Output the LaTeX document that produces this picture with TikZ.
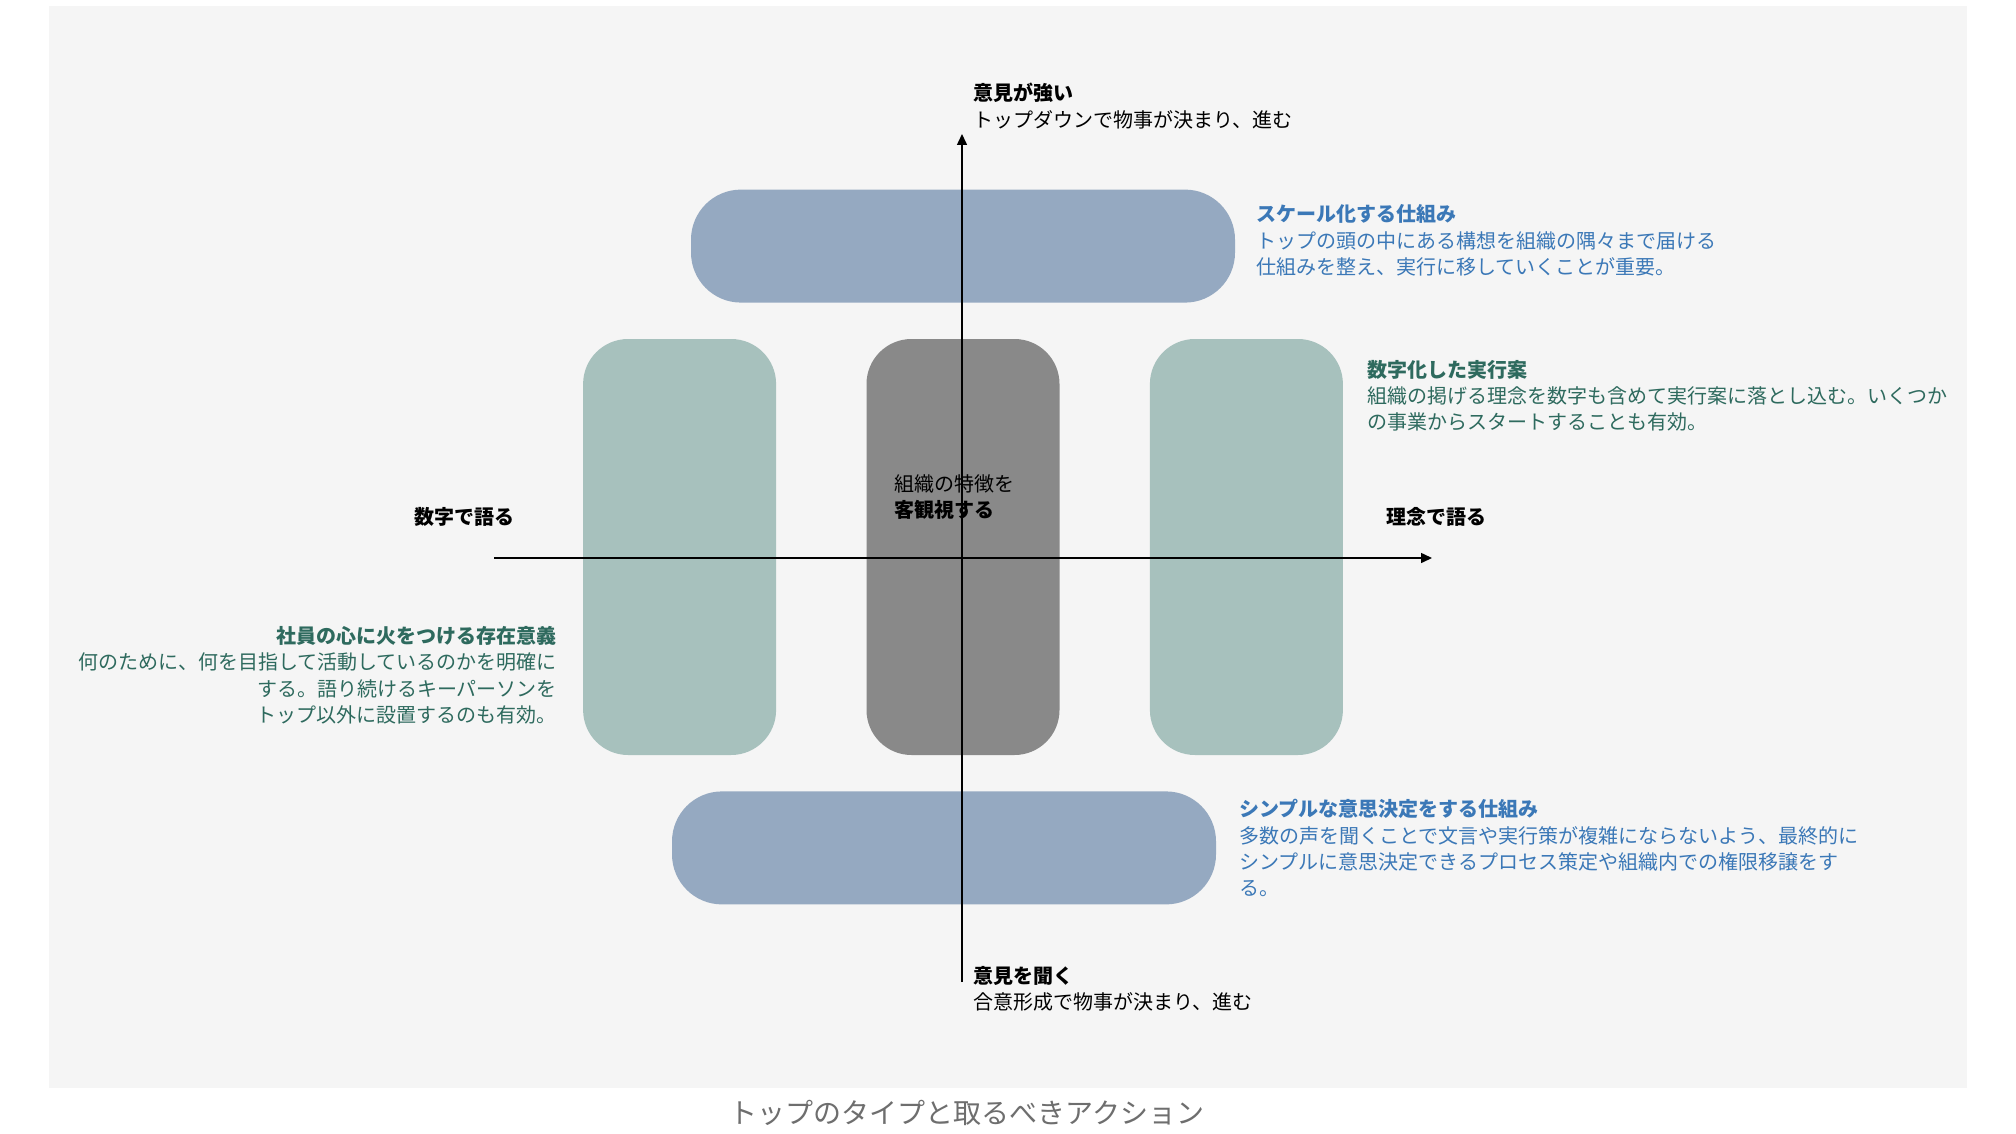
\documentclass[tikz,border=0pt]{standalone}
\usepackage{fontspec}
\setmainfont{Noto Sans CJK JP}
\usepackage{xcolor}
\definecolor{bggray}{HTML}{F5F5F5}
\definecolor{pillblue}{HTML}{95A9C1}
\definecolor{boxgreen}{HTML}{A7C1BD}
\definecolor{boxgray}{HTML}{898989}
\definecolor{txtblue}{HTML}{3B78B7}
\definecolor{txtgreen}{HTML}{2E6A5E}
\definecolor{capgray}{HTML}{6E6E6E}
\usetikzlibrary{arrows.meta,positioning}
\tikzset{
  pill/.style={fill=pillblue,rounded corners=50pt,minimum width=544pt,%
    minimum height=113pt,inner sep=0pt},
  tall/.style={fill=boxgreen,rounded corners=45pt,minimum width=193pt,%
    minimum height=416pt,inner sep=0pt},
  note/.style={inner sep=0pt,align=left,font=\fontsize{20}{26.4}\selectfont},
  axis/.style={-{Triangle[length=11pt,width=10pt]},line width=1.5pt},
}

\begin{document}
\begin{tikzpicture}[x=1pt,y=-1pt,node distance=36pt and 90pt]
\fill[white] (0,0) rectangle (2016,1134);
\useasboundingbox (0,0) rectangle (2016,1134);
\fill[bggray] (49,6) rectangle (1967,1088);
\node[tall,fill=boxgray] (ctr) at (963,547) {};
\node[tall,left=of ctr] (lbox) {};
\node[tall,right=of ctr] (rbox) {};
\node[pill,above=of ctr] (top) {};
\node[pill,below=of ctr,xshift=-19pt] (bot) {};
\node[note,anchor=north west] (ctrtxt) at (894,474) {組織の特徴を\\\bfseries 客観視する};
\node[note,anchor=north west,text=txtblue] (toptxt) at ([xshift=21pt,yshift=-15pt]top.north east)
  {\bfseries スケール化する仕組み\\トップの頭の中にある構想を組織の隅々まで届ける\\仕組みを整え、実行に移していくことが重要。};
\node[note,anchor=north west,text=txtgreen] (rtxt) at ([xshift=24pt,yshift=-21pt]rbox.north east)
  {\bfseries 数字化した実行案\\組織の掲げる理念を数字も含めて実行案に落とし込む。いくつか\\の事業からスタートすることも有効。};
\node[note,anchor=north east,align=right,text=txtgreen] (ltxt) at (557,626)
  {\bfseries 社員の心に火をつける存在意義\\何のために、何を目指して活動しているのかを明確に\\する。語り続けるキーパーソンを\\トップ以外に設置するのも有効。};
\node[note,anchor=north west,text=txtblue] (bottxt) at ([xshift=23pt,yshift=-8pt]bot.north east)
  {\bfseries シンプルな意思決定をする仕組み\\多数の声を聞くことで文言や実行策が複雑にならないよう、最終的に\\シンプルに意思決定できるプロセス策定や組織内での権限移譲をす\\る。};
\coordinate (ytop) at (962,134);
\coordinate (ybot) at (962,982);
\coordinate (xl) at (494,558);
\coordinate (xr) at (1432,558);
\draw[axis] (ybot) -- (ytop);
\draw[axis] (xl) -- (xr);
\node[note,anchor=north west] (strong) at (973,83) {\bfseries 意見が強い\\トップダウンで物事が決まり、進む};
\node[note,anchor=north west] (listen) at (973,966) {\bfseries 意見を聞く\\合意形成で物事が決まり、進む};
\node[note,font=\fontsize{20}{26.4}\selectfont\bfseries] (num) at (464,517) {数字で語る};
\node[note,font=\fontsize{20}{26.4}\selectfont\bfseries] (idea) at (1436,517) {理念で語る};
\node[text=capgray,font=\fontsize{28}{32}\selectfont] (cap) at (967,1113) {トップのタイプと取るべきアクション};
\end{tikzpicture}
\end{document}
